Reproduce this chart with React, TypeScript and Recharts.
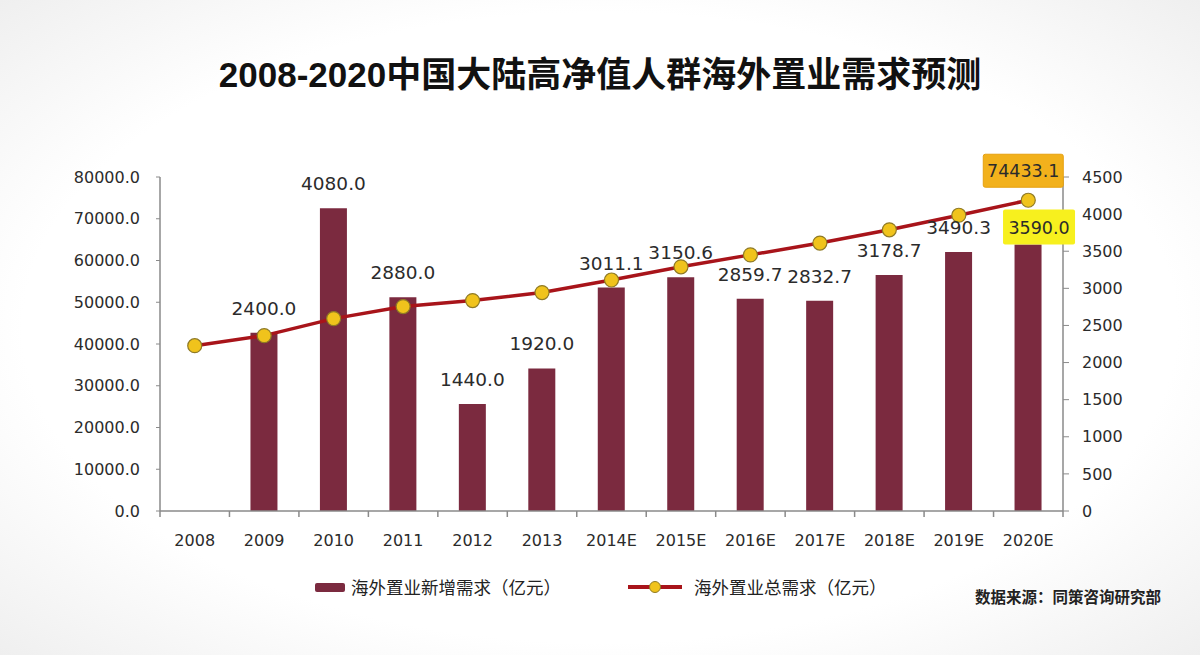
import React from "react";
import { Bar, ComposedChart, LabelList, Line, XAxis, YAxis } from "recharts";

const years = ["2008", "2009", "2010", "2011", "2012", "2013", "2014E", "2015E", "2016E", "2017E", "2018E", "2019E", "2020E"];
const newDemand = [null, 2400, 4080, 2880, 1440, 1920, 3011.1, 3150.6, 2859.7, 2832.7, 3178.7, 3490.3, 3590.0];
const totalDemand = [39600, 42000, 46080, 48960, 50400, 52320, 55331.1, 58481.7, 61341.4, 64174.1, 67352.8, 70843.1, 74433.1];
const leftTicks = [0, 10000, 20000, 30000, 40000, 50000, 60000, 70000, 80000];
const rightTicks = [0, 500, 1000, 1500, 2000, 2500, 3000, 3500, 4000, 4500];

const newName = "海外置业新增需求（亿元）";
const totalName = "海外置业总需求（亿元）";
const title = "2008-2020中国大陆高净值人群海外置业需求预测";
const source = "数据来源：同策咨询研究部";

const data = years.map((year, i) => ({ year, newDemand: newDemand[i], total: totalDemand[i] }));
const lastNew = newDemand[newDemand.length - 1];
const lastTotal = totalDemand[totalDemand.length - 1];

const W = 1200;
const H = 655;
const LEFT_W = 160;
const RIGHT_W = 137;
const band = (W - LEFT_W - RIGHT_W) / years.length;

const BAR = "#7b2a3f";
const LINE = "#a8141a";
const DOT = "#f0c31c";
const DOT_EDGE = "#8f7a25";
const AXIS = "#8a8a8a";
const TEXT = "#2b2b2b";
const numFont = "'DejaVu Sans', sans-serif";
const cjkFont = "'Noto Sans CJK SC', sans-serif";

const CategoryTick = (props: any) => {
  const { x, y, payload, index } = props;
  const last = index === years.length - 1;
  return (
    <g>
      <line x1={x - band / 2} x2={x - band / 2} y1={y} y2={y + 6} stroke={AXIS} strokeWidth={1.5} />
      {last && <line x1={x + band / 2} x2={x + band / 2} y1={y} y2={y + 6} stroke={AXIS} strokeWidth={1.5} />}
      <text x={x} y={y + 35} textAnchor="middle" fill={TEXT} fontSize={16} fontFamily={numFont}>
        {payload.value}
      </text>
    </g>
  );
};

const BarLabel = (props: any) => {
  const { x, y, width, value } = props;
  if (value == null) return null;
  const cx = x + width / 2;
  const txt = Number(value).toFixed(1);
  if (Number(value) === lastNew) {
    return (
      <g>
        <rect x={cx - 25} y={y - 35} width={72} height={35} fill="#f7f01e" rx={2} />
        <text x={cx + 11} y={y - 11} textAnchor="middle" fill={TEXT} fontSize={17.5} fontFamily={numFont}>
          {txt}
        </text>
      </g>
    );
  }
  return (
    <text x={cx} y={y - 18} textAnchor="middle" fill={TEXT} fontSize={18.5} fontFamily={numFont}>
      {txt}
    </text>
  );
};

const TotalLabel = (props: any) => {
  const { x, y, value } = props;
  if (Number(value) !== lastTotal) return null;
  return (
    <g>
      <rect x={x - 45} y={y - 46} width={80} height={33} fill="#f2b11c" stroke="#e6a010" rx={2} />
      <text x={x - 5} y={y - 23} textAnchor="middle" fill={TEXT} fontSize={17.5} fontFamily={numFont}>
        {Number(value).toFixed(1)}
      </text>
    </g>
  );
};

function ChartLegend() {
  const itemStyle: React.CSSProperties = {
    position: "absolute",
    top: 574,
    display: "flex",
    alignItems: "center",
    whiteSpace: "nowrap",
    fontFamily: cjkFont,
    fontSize: 17.5,
    color: "#222",
  };
  return (
    <>
      <div style={{ ...itemStyle, left: 315 }}>
        <svg width={32} height={14}>
          <rect x={0} y={3} width={30} height={9} fill={BAR} rx={2} />
        </svg>
        <span style={{ marginLeft: 4 }}>{newName}</span>
      </div>
      <div style={{ ...itemStyle, left: 626 }}>
        <svg width={60} height={16}>
          <line x1={2} x2={56} y1={8} y2={8} stroke={LINE} strokeWidth={4} />
          <circle cx={29} cy={8} r={5.5} fill={DOT} stroke={DOT_EDGE} strokeWidth={1} />
        </svg>
        <span style={{ marginLeft: 8 }}>{totalName}</span>
      </div>
    </>
  );
}

export default function App() {
  return (
    <div
      style={{
        position: "absolute",
        top: 0,
        left: 0,
        width: W,
        height: H,
        overflow: "hidden",
        background: "radial-gradient(ellipse at center, #ffffff 68%, #efefef 100%)",
      }}
    >
      <div
        style={{
          position: "absolute",
          top: 51,
          left: 0,
          width: W,
          textAlign: "center",
          fontFamily: "'Liberation Sans', 'Noto Sans CJK SC', sans-serif",
          fontWeight: 700,
          fontSize: 35,
          color: "#111",
          lineHeight: "48px",
        }}
      >
        {title}
      </div>
      <div style={{ position: "absolute", top: 0, left: 0 }}>
        <ComposedChart width={W} height={H} data={data} margin={{ top: 177, right: 0, bottom: 104, left: 0 }}>
          <XAxis
            dataKey="year"
            height={40}
            axisLine={{ stroke: AXIS, strokeWidth: 1.5 }}
            tickLine={false}
            tickSize={0}
            tickMargin={0}
            interval={0}
            tick={<CategoryTick />}
          />
          <YAxis
            yAxisId="left"
            orientation="left"
            width={LEFT_W}
            domain={[0, 80000]}
            ticks={leftTicks}
            tickFormatter={(v: number) => v.toFixed(1)}
            axisLine={{ stroke: AXIS, strokeWidth: 1.5 }}
            tickLine={{ stroke: AXIS }}
            tickSize={4}
            tickMargin={16}
            tick={{ fill: TEXT, fontSize: 16, fontFamily: numFont }}
          />
          <YAxis
            yAxisId="right"
            orientation="right"
            width={RIGHT_W}
            domain={[0, 4500]}
            ticks={rightTicks}
            axisLine={{ stroke: AXIS, strokeWidth: 1.5 }}
            tickLine={{ stroke: AXIS }}
            tickSize={6}
            tickMargin={13}
            tick={{ fill: TEXT, fontSize: 16, fontFamily: numFont, textAnchor: "start" }}
          />
          <Bar yAxisId="right" dataKey="newDemand" name={newName} fill={BAR} barSize={27} isAnimationActive={false}>
            <LabelList dataKey="newDemand" content={<BarLabel />} />
          </Bar>
          <Line
            yAxisId="left"
            dataKey="total"
            name={totalName}
            type="linear"
            stroke={LINE}
            strokeWidth={3.5}
            dot={{ r: 7, fill: DOT, stroke: DOT_EDGE, strokeWidth: 1.2 }}
            isAnimationActive={false}
          >
            <LabelList dataKey="total" content={<TotalLabel />} />
          </Line>
        </ComposedChart>
      </div>
      <ChartLegend />
      <div
        style={{
          position: "absolute",
          top: 585,
          left: 975,
          fontFamily: cjkFont,
          fontSize: 15.5,
          fontWeight: 700,
          color: "#222",
          whiteSpace: "nowrap",
        }}
      >
        {source}
      </div>
    </div>
  );
}
